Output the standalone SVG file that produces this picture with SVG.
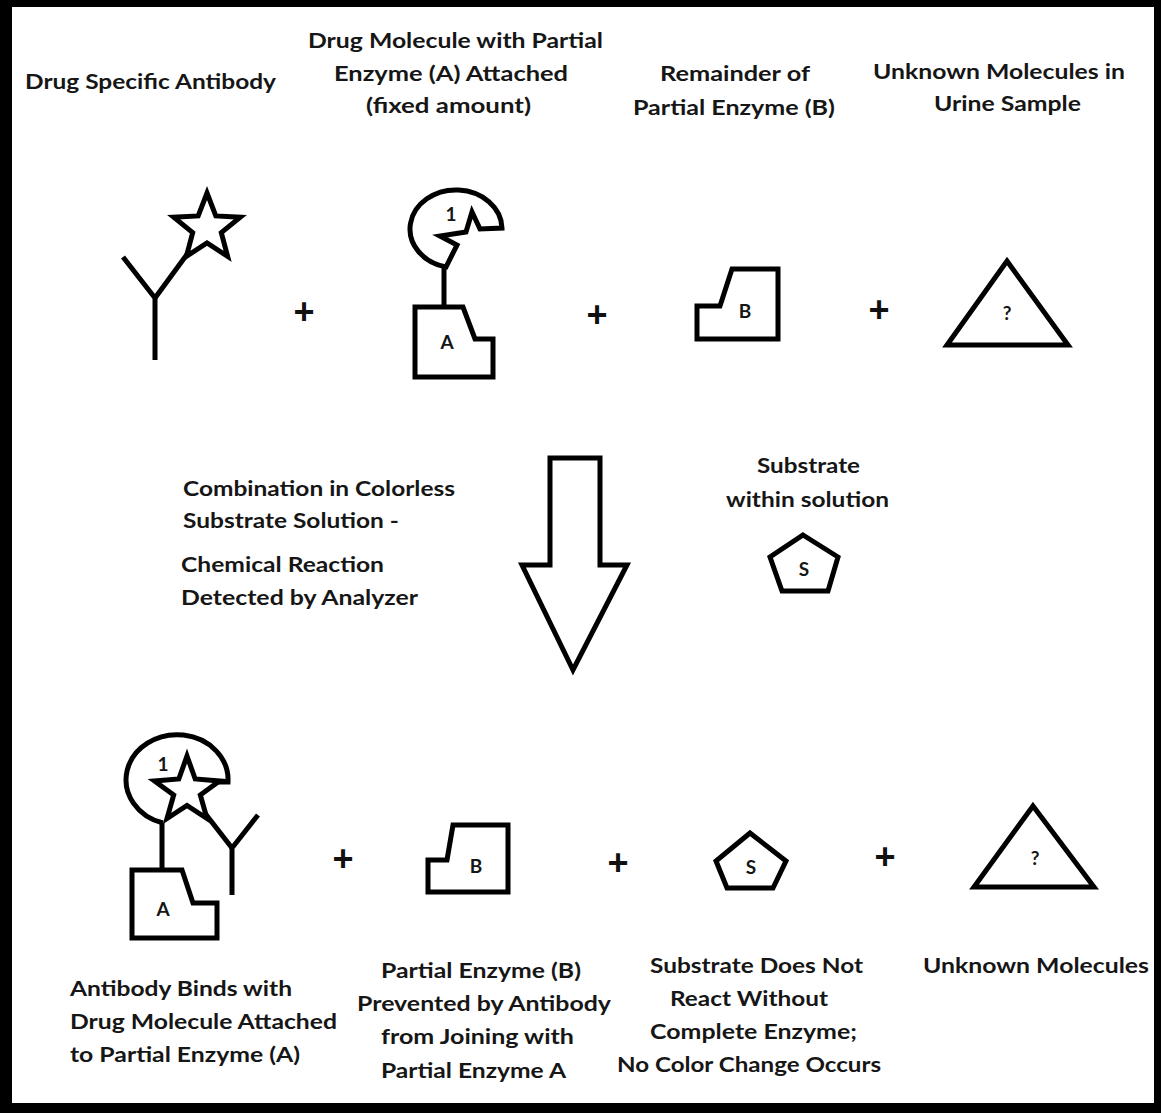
<svg xmlns="http://www.w3.org/2000/svg" width="1161" height="1113" viewBox="0 0 1161 1113">
<style>
.t{font-family:Lato,"Liberation Sans",sans-serif;font-weight:bold;font-size:21px;fill:#161616}
.l{font-family:Lato,"Liberation Sans",sans-serif;font-weight:bold;font-size:19px;fill:#161616;text-anchor:middle}
.p{font-family:"Liberation Sans",sans-serif;font-weight:bold;font-size:36px;fill:#111;text-anchor:middle}
.s{fill:#fff;stroke:#000;stroke-width:5;stroke-linejoin:miter}
.ln{fill:none;stroke:#000;stroke-width:5}
</style>
<rect x="0" y="0" width="1161" height="1113" fill="#000"/>
<rect x="12" y="7" width="1142" height="1096" fill="#fff"/>

<g id="labels-top">
<text class="t" x="25" y="89" textLength="251" lengthAdjust="spacingAndGlyphs">Drug Specific Antibody</text>
<text class="t" x="308" y="48" textLength="295" lengthAdjust="spacingAndGlyphs">Drug Molecule with Partial</text>
<text class="t" x="334" y="81" textLength="234" lengthAdjust="spacingAndGlyphs">Enzyme (A) Attached</text>
<text class="t" x="366" y="113" textLength="165" lengthAdjust="spacingAndGlyphs">(fixed amount)</text>
<text class="t" x="660" y="81" textLength="150" lengthAdjust="spacingAndGlyphs">Remainder of</text>
<text class="t" x="633" y="115" textLength="202" lengthAdjust="spacingAndGlyphs">Partial Enzyme (B)</text>
<text class="t" x="873" y="79" textLength="252" lengthAdjust="spacingAndGlyphs">Unknown Molecules in</text>
<text class="t" x="934" y="111" textLength="147" lengthAdjust="spacingAndGlyphs">Urine Sample</text>
</g>

<g id="antibody-top">
<polyline class="ln" points="123,257 155,298 155,360"/>
<line class="ln" x1="155" y1="298" x2="188" y2="253"/>
<polygon class="s" points="207,193 215.8,215.9 240.3,217.2 221.3,232.6 227.6,256.3 207,243 186.4,256.3 192.7,232.6 173.7,217.2 198.2,215.9"/>
</g>

<text class="p" x="304" y="324">+</text>

<g id="drug-enzyme-a-top">
<path class="s" d="M 502 228 A 46 39 0 1 0 446 267 L 457 245 L 440 236 L 466 232 L 472 212 L 480 229 Z"/>
<text class="l" x="451" y="221">1</text>
<line class="ln" x1="444" y1="267" x2="444" y2="307"/>
<path class="s" d="M 415 307 L 463 307 L 475 339 L 493 339 L 493 377 L 415 377 Z"/>
<text class="l" x="447" y="349">A</text>
</g>

<text class="p" x="597" y="327">+</text>

<g id="enzyme-b-top">
<path class="s" d="M 732 269 L 778 269 L 778 339 L 697 339 L 697 306 L 720 306 Z"/>
<text class="l" x="745" y="318">B</text>
</g>

<text class="p" x="879" y="322">+</text>

<g id="unknown-top">
<polygon class="s" points="1007,261 1068,345 947,345"/>
<text class="l" x="1007" y="320">?</text>
</g>

<g id="arrow">
<polygon class="s" points="550,458 600,458 600,565 627,565 573,670 522,565 550,565"/>
</g>

<g id="labels-middle">
<text class="t" x="183" y="496" textLength="272" lengthAdjust="spacingAndGlyphs">Combination in Colorless</text>
<text class="t" x="183" y="528" textLength="216" lengthAdjust="spacingAndGlyphs">Substrate Solution -</text>
<text class="t" x="181" y="572" textLength="203" lengthAdjust="spacingAndGlyphs">Chemical Reaction</text>
<text class="t" x="181" y="605" textLength="237" lengthAdjust="spacingAndGlyphs">Detected by Analyzer</text>
<text class="t" x="757" y="473" textLength="103" lengthAdjust="spacingAndGlyphs">Substrate</text>
<text class="t" x="726" y="507" textLength="163" lengthAdjust="spacingAndGlyphs">within solution</text>
</g>

<g id="substrate-middle">
<polygon class="s" points="803,535 838,557 828,591 782,591 770,557"/>
<text class="l" x="804" y="576">S</text>
</g>

<g id="bound-complex">
<path class="s" d="M 213 782 L 228 782 A 51 45 0 1 0 163 823"/>
<text class="l" x="163" y="771">1</text>
<line class="ln" x1="162" y1="823" x2="162" y2="870"/>
<path class="s" d="M 132 870 L 182 870 L 193 903 L 217 903 L 217 938 L 132 938 Z"/>
<text class="l" x="163" y="916">A</text>
<polyline class="ln" points="258,815 232,848 232,895"/>
<line class="ln" x1="232" y1="848" x2="204" y2="812"/>
<polygon class="s" points="187,756 195.2,779 219.5,781 200.3,795 207,818.5 187,805.4 167,818.5 173.7,795 154.5,781 178.8,779"/>
</g>

<text class="p" x="343" y="871">+</text>

<g id="enzyme-b-bottom">
<path class="s" d="M 453 825 L 508 825 L 508 892 L 428 892 L 428 860 L 447 860 Z"/>
<text class="l" x="476" y="873">B</text>
</g>

<text class="p" x="618" y="875">+</text>

<g id="substrate-bottom">
<polygon class="s" points="750,833 786,861 773,888 727,888 716,861"/>
<text class="l" x="751" y="874">S</text>
</g>

<text class="p" x="885" y="869">+</text>

<g id="unknown-bottom">
<polygon class="s" points="1033,806 1094,887 974,887"/>
<text class="l" x="1035" y="865">?</text>
</g>

<g id="labels-bottom">
<text class="t" x="70" y="996" textLength="222" lengthAdjust="spacingAndGlyphs">Antibody Binds with</text>
<text class="t" x="70" y="1029" textLength="267" lengthAdjust="spacingAndGlyphs">Drug Molecule Attached</text>
<text class="t" x="70" y="1062" textLength="230" lengthAdjust="spacingAndGlyphs">to Partial Enzyme (A)</text>
<text class="t" x="381" y="978" textLength="200" lengthAdjust="spacingAndGlyphs">Partial Enzyme (B)</text>
<text class="t" x="357" y="1011" textLength="254" lengthAdjust="spacingAndGlyphs">Prevented by Antibody</text>
<text class="t" x="381" y="1044" textLength="193" lengthAdjust="spacingAndGlyphs">from Joining with</text>
<text class="t" x="381" y="1078" textLength="185" lengthAdjust="spacingAndGlyphs">Partial Enzyme A</text>
<text class="t" x="650" y="973" textLength="213" lengthAdjust="spacingAndGlyphs">Substrate Does Not</text>
<text class="t" x="670" y="1006" textLength="158" lengthAdjust="spacingAndGlyphs">React Without</text>
<text class="t" x="650" y="1039" textLength="207" lengthAdjust="spacingAndGlyphs">Complete Enzyme;</text>
<text class="t" x="617" y="1072" textLength="264" lengthAdjust="spacingAndGlyphs">No Color Change Occurs</text>
<text class="t" x="923" y="973" textLength="226" lengthAdjust="spacingAndGlyphs">Unknown Molecules</text>
</g>
</svg>
